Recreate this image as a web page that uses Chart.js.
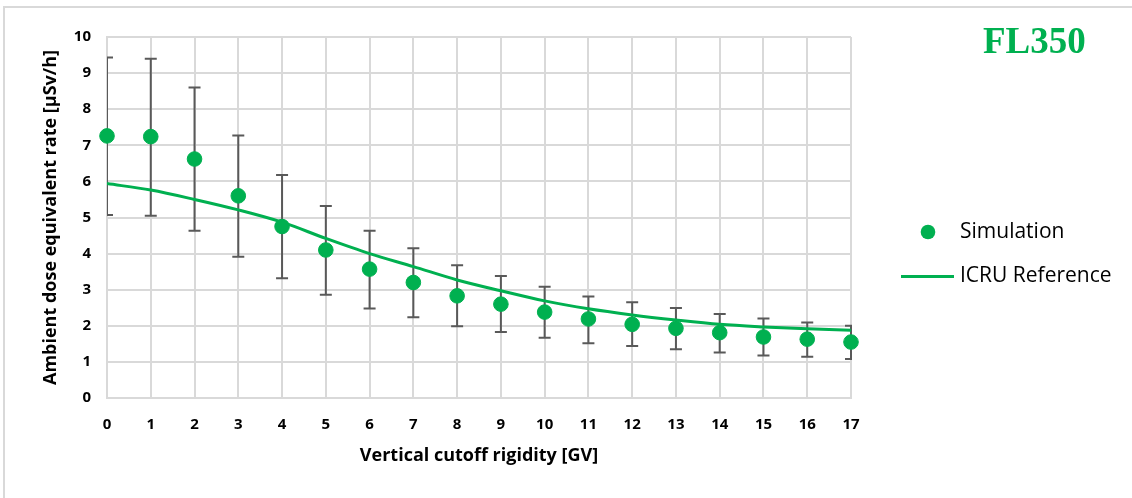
<!DOCTYPE html>
<html>
<head>
<meta charset="utf-8">
<script src="https://cdn.jsdelivr.net/npm/chart.js@4.4.1/dist/chart.umd.min.js"></script>
<style>
html,body{margin:0;padding:0;background:#fff;}
#wrap{position:relative;width:1132px;height:498px;}
#frame{position:absolute;left:3px;top:6px;right:0;bottom:0;border-left:2px solid #d9d9d9;border-top:2px solid #d9d9d9;}
canvas{position:absolute;left:0;top:0;}
</style>
</head>
<body>
<div id="wrap">
<div id="frame"></div>
<canvas id="chart" width="1132" height="498"></canvas>
</div>
<script>
// values
const rigidity=[0,1,2,3,4,5,6,7,8,9,10,11,12,13,14,15,16,17];
const simulation=[7.26,7.24,6.62,5.60,4.75,4.10,3.57,3.20,2.83,2.60,2.38,2.19,2.04,1.93,1.81,1.69,1.63,1.55];
const errHigh=[9.43,9.40,8.60,7.27,6.18,5.32,4.63,4.15,3.68,3.38,3.08,2.81,2.65,2.49,2.33,2.20,2.09,2.00];
const errLow=[5.07,5.05,4.63,3.91,3.32,2.86,2.48,2.24,1.99,1.83,1.67,1.52,1.44,1.35,1.26,1.18,1.14,1.08];
const icru=[5.94,5.76,5.50,5.21,4.87,4.42,4.00,3.64,3.27,2.97,2.69,2.47,2.30,2.16,2.04,1.97,1.92,1.88];
const seriesNames=["Simulation","ICRU Reference"];
const tag="FL350";

const green="#00b050";
const grid="#d9d9d9";
const sans='"Open Sans", sans-serif';

const extras={
id:'extras',
beforeDatasetsDraw(chart){
const {ctx,chartArea:a,scales:{x,y}}=chart;
ctx.save();
ctx.beginPath();
ctx.rect(a.left,0,a.right-a.left+1,chart.height);
ctx.clip();
ctx.strokeStyle="#595959";
ctx.lineWidth=2;
rigidity.forEach((r,i)=>{
let px=x.getPixelForValue(r);
let hi=y.getPixelForValue(errHigh[i]);
let lo=y.getPixelForValue(errLow[i]);
ctx.beginPath();
ctx.moveTo(px,hi);ctx.lineTo(px,lo);
ctx.moveTo(px-6,hi);ctx.lineTo(px+6,hi);
ctx.moveTo(px-6,lo);ctx.lineTo(px+6,lo);
ctx.stroke();
});
ctx.restore();
},
afterDraw(chart){
const {ctx,chartArea:a}=chart;
let lx=a.right+50;
ctx.save();
// legend
ctx.fillStyle=green;
ctx.beginPath();
ctx.arc(lx+27,232,7.3,0,Math.PI*2);
ctx.fill();
ctx.strokeStyle=green;
ctx.lineWidth=3;
ctx.beginPath();
ctx.moveTo(lx,276.5);ctx.lineTo(lx+53,276.5);
ctx.stroke();
ctx.fillStyle="#000";
ctx.font='21px '+sans;
ctx.textBaseline="middle";
ctx.fillText(seriesNames[0],lx+59,232);
ctx.fillText(seriesNames[1],lx+59,276);
// flight level tag
ctx.fillStyle=green;
ctx.font='bold 37px "Liberation Serif", serif';
ctx.textBaseline="alphabetic";
ctx.fillText(tag,983,53);
ctx.restore();
}
};

new Chart(document.getElementById("chart"),{
type:'scatter',
data:{
datasets:[
{
label:seriesNames[0],
data:rigidity.map((r,i)=>({x:r,y:simulation[i]})),
backgroundColor:green,
borderColor:green,
pointRadius:7.3,
pointHoverRadius:7.3,
clip:false,
order:0
},
{
label:seriesNames[1],
data:rigidity.map((r,i)=>({x:r,y:icru[i]})),
showLine:true,
borderColor:green,
borderWidth:3,
pointRadius:0,
cubicInterpolationMode:'monotone',
order:1
}
]
},
plugins:[extras],
options:{
responsive:false,
animation:false,
layout:{padding:{left:36,top:37,right:281,bottom:27}},
plugins:{legend:{display:false},tooltip:{enabled:false}},
scales:{
x:{
type:'linear',min:0,max:17,
grid:{color:grid,lineWidth:2,drawTicks:false},
border:{color:grid,width:2},
ticks:{stepSize:1,padding:18,color:"#000",font:{family:sans,size:15,weight:'bold'}},
title:{display:true,text:"Vertical cutoff rigidity [GV]",color:"#000",font:{family:sans,size:18,weight:'bold'}},
afterFit(s){s.height=73;}
},
y:{
min:0,max:10,
grid:{color:grid,lineWidth:2,drawTicks:false},
border:{color:grid,width:2},
ticks:{stepSize:1,padding:16,color:"#000",font:{family:sans,size:15,weight:'bold'}},
title:{display:true,text:"Ambient dose equivalent rate [µSv/h]",color:"#000",font:{family:sans,size:18,weight:'bold'}},
afterFit(s){s.width=71;}
}
}
}
});
</script>
</body>
</html>
